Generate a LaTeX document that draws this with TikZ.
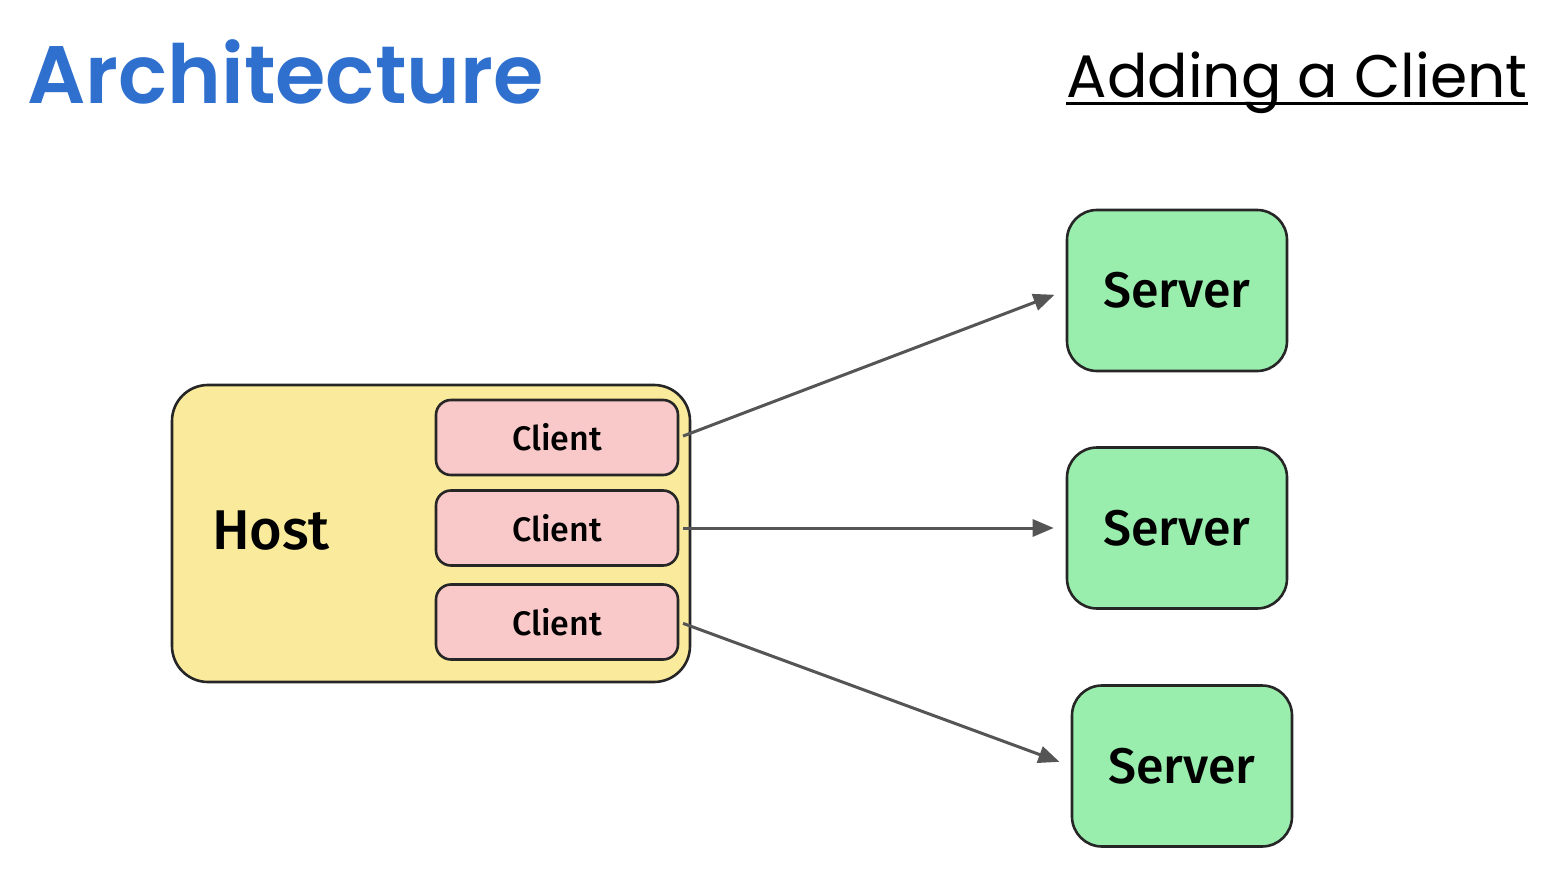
\documentclass[tikz,border=0pt]{standalone}
\usepackage{fontspec}
\setmainfont{Fira Sans}[UprightFont=* Medium]
\newfontfamily\popfont{Poppins}
\newfontfamily\popbold{Poppins}[UprightFont=* SemiBold]
\usetikzlibrary{arrows.meta}
\definecolor{titleblue}{RGB}{47,112,206}
\definecolor{hostfill}{RGB}{250,234,156}
\definecolor{clientfill}{RGB}{249,200,200}
\definecolor{serverfill}{RGB}{153,238,174}
\definecolor{stroke}{RGB}{38,38,38}
\definecolor{arrowgray}{RGB}{85,85,85}
\tikzset{
  box/.style={draw=stroke, line width=2.6pt, inner sep=0pt},
  hostbox/.style={box, fill=hostfill, rounded corners=36pt, minimum width=518pt, minimum height=297pt},
  clientbox/.style={box, fill=clientfill, rounded corners=15pt, minimum width=242pt, minimum height=75pt, font=\fontsize{34}{40}\selectfont},
  serverbox/.style={box, fill=serverfill, rounded corners=30pt, minimum width=220pt, minimum height=161pt, font=\fontsize{50}{56}\selectfont},
  conn/.style={draw=arrowgray, line width=3pt, -{Triangle[length=21pt,width=17pt]}, shorten >=12pt, shorten <=4pt},
}
\begin{document}
\begin{tikzpicture}[x=1pt,y=-1pt]
\useasboundingbox (0,0) rectangle (1548,877);
\fill[white] (0,0) rectangle (1548,877);
\node[inner sep=0pt, anchor=base west, text=titleblue, font=\popbold\fontsize{81.5}{86}\selectfont] (title) at (27,104) {Architecture};
\node[inner sep=0pt, anchor=base east, font=\popfont\fontsize{60}{66}\selectfont] (sub) at (1528,98) {Adding a Client};
\draw[line width=3pt] ([yshift=-6pt]sub.base west) -- ([yshift=-6pt]sub.base east);

\node[hostbox] (host) at (431,533.5) {};
\node[inner sep=0pt, font=\fontsize{56}{62}\selectfont] (hostlabel) at (271,531) {Host};
\node[clientbox] (c1) at (557,437.5) {Client};
\node[clientbox] (c2) at (557,528) {Client};
\node[clientbox] (c3) at (557,622) {Client};

\node[serverbox] (s1) at (1177,290.5) {Server};
\node[serverbox] (s2) at (1177,528) {Server};
\node[serverbox] (s3) at (1182,766) {Server};

\draw[conn] (c1.east) -- (s1.west);
\draw[conn] (c2.east) -- (s2.west);
\draw[conn] (c3.east) -- (s3.west);
\end{tikzpicture}
\end{document}
